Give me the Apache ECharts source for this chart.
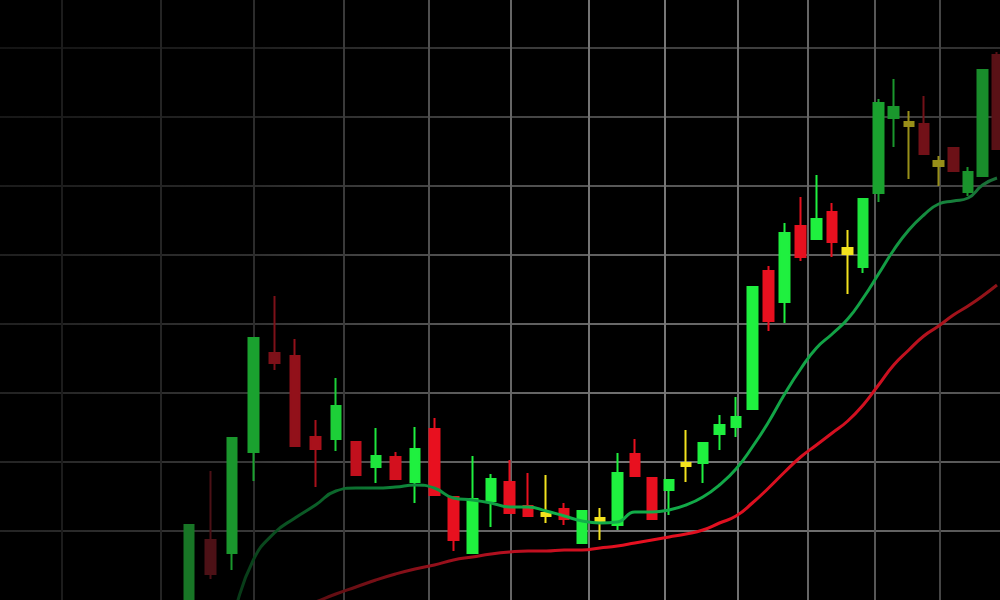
<!DOCTYPE html>
<html>
<head>
<meta charset="utf-8">
<script src="https://cdn.jsdelivr.net/npm/echarts@6/dist/echarts.min.js"></script>
<style>html,body{margin:0;padding:0;background:#000;}#c{width:1000px;height:600px;}</style>
</head>
<body>
<div id="c"></div>
<script>
// Trading sessions (day numbers) - the photo is taken in perspective, so a log axis is used
const days = [89,90,91,92,93,94,95,96,97,98,99,100,101,102,103,104,105,106,107,108,109,110,111,112,113,114,115,116,117,118,119,120,121,122,123,124,125,126,127,128,129,130,131,132,133,134,135];
const openV  = [-60,60,47,148,247,244,163,161,158,133,143,118,171,103,47,99,118,94,87,91,57,82,75,146,122,110,134,137,166,173,191,329,298,374,361,388,352,333,407,482,478,476,439,452,408,424,545];
const closeV = [75,26,162,262,237,154,151,194,125,144,121,151,105,60,101,121,87,84,84,81,89,78,127,124,81,120,137,157,175,183,313,279,367,343,381,358,346,401,497,493,474,446,434,429,428,530,451];
const lowV   = [-70,21,30,119,230,154,113,149,125,117,120,97,105,49,47,73,87,84,77,75,57,60,70,124,81,85,118,117,150,163,191,269,277,339,361,343,306,327,398,453,421,446,414,429,404,424,451];
const highV  = [76,129,163,263,304,261,180,222,158,172,148,173,182,103,144,126,140,127,125,97,89,92,147,161,122,120,170,157,185,203,313,334,377,403,425,397,370,401,501,521,489,504,444,452,433,530,548];
// moving averages
const maShort = [-140,-80,-18,40,67,82,95,109,112,112,113,115,112,102,100,97,93,93,89,84,79,77,78,88,88,90,95,103,115,131,153,178,206,231,252,266,281,302,326,350,370,385,396,399,402,415,422];
const maLong  = [-72,-58,-45,-32,-20,-10,-2,6,13,20,26,31,35,40,43,46,48,49,49,50,50,52,54,57,60,63,66,70,77,84,97,112,128,143,155,167,179,195,215,235,250,264,274,285,294,304,315];
// grid tick values
const xGridTicks = [83.36,87.70,92.04,96.38,100.72,105.06,109.40,113.74,118.08,122.42,126.76,131.10];

// ---- styles (depth-of-field fade of the photo) ----
const candleFade = [0.45,0.27,0.6,0.65,0.5,0.6,0.7,0.85,0.82,0.95,0.9,
  1,1,1,1,1,1,1,1,1,1,1,1,1,1,1,1,1,1,1,1,1,1,1,1,1,1,
  0.95,0.65,0.6,0.6,0.45,0.6,0.42,0.58,0.55,0.33];
const GREEN=[31,240,63], RED=[232,16,31], YELLOW=[242,226,30];
function mix(c,f){return 'rgb('+c.map(v=>Math.round(v*f+18*(1-f))).join(',')+')';}
function styleFor(i){
  const o=openV[i], c=closeV[i];
  let base = Math.abs(c-o)<=6 ? YELLOW : (c>o ? GREEN : RED);
  const col = mix(base, candleFade[i]);
  return {color:col,color0:col,borderColor:col,borderColor0:col,borderColorDoji:col,borderWidth:2};
}
const candleData = days.map((d,i)=>({value:[d,openV[i],closeV[i],lowV[i],highV[i]],itemStyle:styleFor(i)}));

function g(v){v=Math.round(v);return 'rgb('+v+','+v+','+v+')';}
function hGrad(b){return {type:'linear',x:0,y:0,x2:1,y2:0,colorStops:[
  {offset:0,color:g(36*b)},{offset:0.25,color:g(55*b)},{offset:0.45,color:g(95*b)},
  {offset:0.62,color:g(118*b)},{offset:0.82,color:g(110*b)},{offset:1,color:g(82*b)}]};}
const rowBright=[1,1,0.95,0.9,0.85,0.75,0.65,0.55,0.5];
const hColors=rowBright.map(hGrad);
const vColors=['#1c1c1c','#242424','#2c2c2c','#3a3a3a','#505050','#666666','#747474','#777777','#717171','#666666','#575757','#454545'];

const chart = echarts.init(document.getElementById('c'));
chart.setOption({
  backgroundColor:'#000',
  animation:false,
  grid:{left:0,right:0,top:0,bottom:0,containLabel:false},
  xAxis:{type:'log',logBase:10,min:80.735,max:135.21,
    axisLine:{show:false},axisLabel:{show:false},
    axisTick:{show:false,customValues:xGridTicks},
    splitLine:{show:true,lineStyle:{color:vColors,width:2}}},
  yAxis:{type:'value',min:0,max:600,interval:69,
    axisLine:{show:false},axisLabel:{show:false},axisTick:{show:false},
    splitLine:{show:true,showMinLine:false,showMaxLine:false,lineStyle:{color:hColors,width:2}}},
  series:[
    {type:'line',data:days.map((d,i)=>[d,maLong[i]]),smooth:true,symbol:'none',
      lineStyle:{width:3,color:{type:'linear',x:0,y:0,x2:1,y2:0,colorStops:[
        {offset:0,color:'#300508'},{offset:0.2,color:'#6a0f14'},{offset:0.4,color:'#b81020'},
        {offset:0.55,color:'#e81020'},{offset:0.85,color:'#d01020'},{offset:1,color:'#8a1418'}]}}},
    {type:'line',data:days.map((d,i)=>[d,maShort[i]]),smooth:true,symbol:'none',
      lineStyle:{width:3,color:{type:'linear',x:0,y:0,x2:1,y2:0,colorStops:[
        {offset:0,color:'#041e0c'},{offset:0.1,color:'#0a4a1e'},{offset:0.28,color:'#0e8a3c'},
        {offset:0.45,color:'#12b04a'},{offset:0.85,color:'#12a045'},{offset:1,color:'#1a6a35'}]}}},
    {type:'candlestick',data:candleData,barWidth:10,clip:true}
  ]
});
</script>
</body>
</html>
